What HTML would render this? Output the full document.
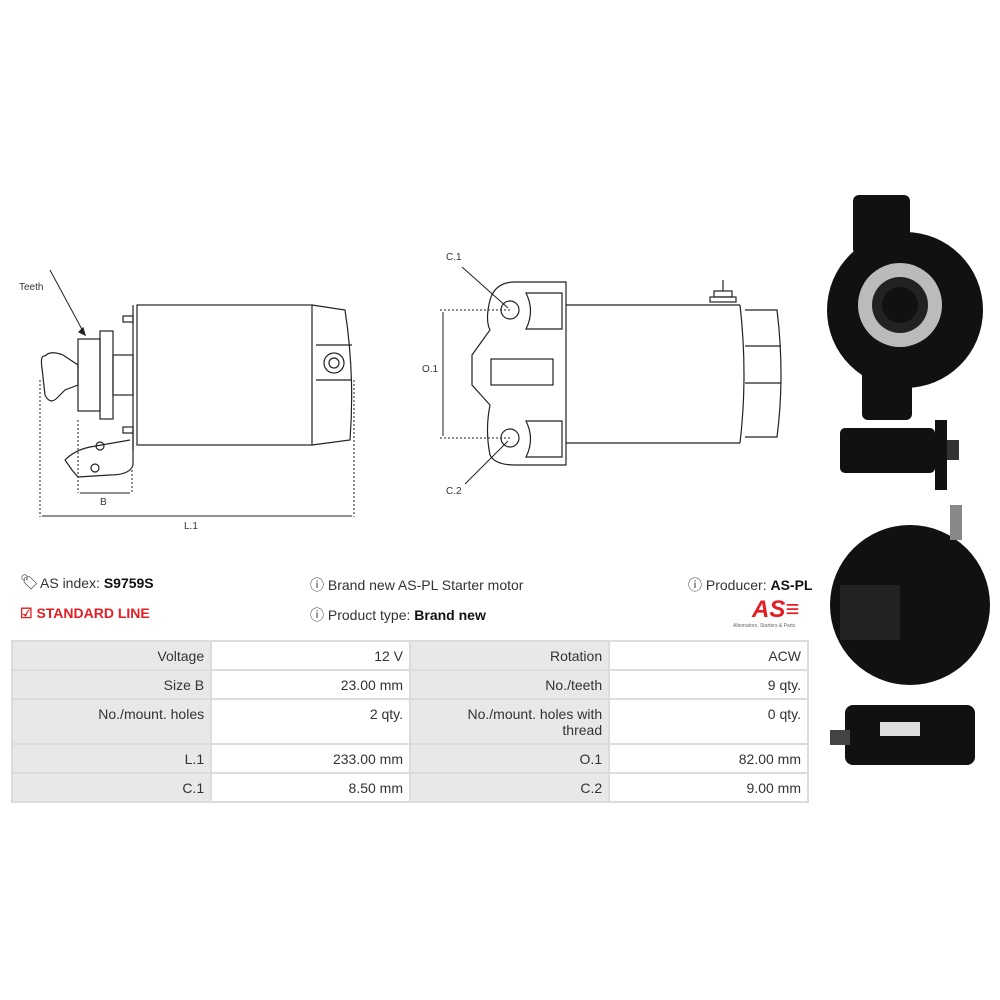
<!DOCTYPE html>
<html><head><meta charset="utf-8"><style>
body{margin:0;width:1000px;height:1000px;background:#fff;position:relative;font-family:"Liberation Sans",sans-serif;overflow:hidden}
.t{position:absolute;font-size:14px;color:#333}
b{color:#111}
table{position:absolute;left:11px;top:640px;border-collapse:collapse;width:798px;font-size:14px;color:#333}
td{border:2px solid #dcdcdc;text-align:right;padding:6px 6px 5px 6px;vertical-align:top;width:186px;line-height:16px}
td.g{background:#e8e8e8}
</style></head><body>
<svg width="1000" height="1000" style="position:absolute;left:0;top:0" fill="none" stroke="#222" stroke-width="1.2">
<g>
<rect x="137" y="305" width="175" height="140"/>
<line x1="133" y1="305" x2="133" y2="450"/>
<path d="M312 305 L345 310 Q355 375 350 440 L312 445"/>
<line x1="316" y1="345" x2="352" y2="345"/><line x1="316" y1="380" x2="352" y2="380"/>
<circle cx="334" cy="363" r="10"/><circle cx="334" cy="363" r="5"/>
<rect x="123" y="316" width="10" height="6"/><rect x="123" y="427" width="10" height="6"/>
<rect x="78" y="339" width="22" height="72"/>
<rect x="100" y="331" width="13" height="88"/>
<rect x="113" y="355" width="20" height="40"/>
<path d="M45 356 Q40 355 42 368 L45 395 Q50 405 57 398 L65 390 L78 385 L78 365 L63 355 Q50 350 45 356Z"/>
<path d="M133 430 L133 465 Q130 475 110 475 L78 477 L72 470 L65 460 Q75 450 90 447 L130 440"/>
<circle cx="100" cy="446" r="4"/><circle cx="95" cy="468" r="4"/>
<line x1="50" y1="270" x2="85" y2="335" stroke-width="1"/>
<path d="M85 335 l-6 -3 l4 -4z" fill="#222"/>
<g stroke-dasharray="2 2" stroke-width="1"><line x1="40" y1="380" x2="40" y2="517"/><line x1="354" y1="380" x2="354" y2="517"/><line x1="78" y1="420" x2="78" y2="493"/><line x1="132" y1="470" x2="132" y2="493"/></g>
<line x1="42" y1="516" x2="352" y2="516" stroke-width="1"/>
<line x1="80" y1="493" x2="130" y2="493" stroke-width="1"/>
</g>
<g>
<path d="M566 282 L515 282 Q495 282 490 300 Q485 320 490 330 L472 355 L472 385 L490 405 Q485 430 490 455 Q495 465 515 465 L566 465Z"/>
<circle cx="510" cy="310" r="9"/><circle cx="510" cy="438" r="9"/>
<path d="M526 293 L562 293 L562 329 L526 329 Q535 311 526 293Z"/>
<path d="M526 421 L562 421 L562 457 L526 457 Q535 439 526 421Z"/>
<rect x="491" y="359" width="62" height="26"/>
<line x1="566" y1="305" x2="740" y2="305"/><line x1="566" y1="443" x2="740" y2="443"/>
<path d="M740 305 Q748 375 740 443"/>
<path d="M745 310 L777 310 Q785 375 777 437 L745 437"/>
<line x1="745" y1="346" x2="781" y2="346"/><line x1="745" y1="383" x2="781" y2="383"/>
<rect x="710" y="297" width="26" height="5"/><rect x="714" y="291" width="18" height="6"/><line x1="723" y1="280" x2="723" y2="291"/>
<g stroke-dasharray="2 2" stroke-width="1"><line x1="440" y1="310" x2="510" y2="310"/><line x1="440" y1="438" x2="510" y2="438"/></g>
<line x1="443" y1="312" x2="443" y2="436" stroke-width="1"/>
<line x1="462" y1="267" x2="508" y2="308" stroke-width="1"/><line x1="465" y1="484" x2="508" y2="441" stroke-width="1"/>
</g>
<g fill="#111" stroke="none">
<rect x="853" y="195" width="57" height="60" rx="6"/>
<circle cx="905" cy="310" r="78"/>
<rect x="862" y="360" width="50" height="60" rx="6"/>
<circle cx="900" cy="305" r="42" fill="#bbb"/><circle cx="900" cy="305" r="28" fill="#222"/><circle cx="900" cy="305" r="18" fill="#111"/>
<rect x="840" y="428" width="95" height="45" rx="5"/>
<rect x="935" y="420" width="12" height="70"/><rect x="947" y="440" width="12" height="20" fill="#333"/>
<circle cx="910" cy="605" r="80"/>
<rect x="840" y="585" width="60" height="55" fill="#222"/>
<rect x="950" y="505" width="12" height="35" fill="#888"/>
<rect x="845" y="705" width="130" height="60" rx="8"/>
<rect x="830" y="730" width="20" height="15" fill="#444"/>
<rect x="880" y="722" width="40" height="14" fill="#ddd"/>
</g>
</svg>
<div class="t" style="left:40px;top:575px">AS index: <b>S9759S</b></div>
<div class="t" style="left:20px;top:573px;font-size:15px">🏷</div>
<div class="t" style="left:20px;top:605px;color:#e31e24;font-weight:bold">☑ STANDARD LINE</div>
<div class="t" style="left:310px;top:575px">ⓘ Brand new AS-PL Starter motor</div>
<div class="t" style="left:310px;top:605px">ⓘ Product type: <b>Brand new</b></div>
<div class="t" style="left:688px;top:575px">ⓘ Producer: <b>AS-PL</b></div>
<div class="t" style="left:752px;top:596px;color:#e31e24;font-weight:bold;font-style:italic;font-size:24px">AS≡</div>
<div class="t" style="left:733px;top:623px;font-size:5px;color:#666">Alternators, Starters &amp; Parts</div>
<table>
<tr><td class="g">Voltage</td><td>12 V</td><td class="g">Rotation</td><td>ACW</td></tr>
<tr><td class="g">Size B</td><td>23.00 mm</td><td class="g">No./teeth</td><td>9 qty.</td></tr>
<tr style="height:43px"><td class="g">No./mount. holes</td><td>2 qty.</td><td class="g">No./mount. holes with<br>thread</td><td>0 qty.</td></tr>
<tr><td class="g">L.1</td><td>233.00 mm</td><td class="g">O.1</td><td>82.00 mm</td></tr>
<tr><td class="g">C.1</td><td>8.50 mm</td><td class="g">C.2</td><td>9.00 mm</td></tr>
</table>
<div class="t" style="left:19px;top:282px;font-size:10px">Teeth</div>
<div class="t" style="left:100px;top:497px;font-size:10px">B</div>
<div class="t" style="left:184px;top:521px;font-size:10px">L.1</div>
<div class="t" style="left:446px;top:252px;font-size:10px">C.1</div>
<div class="t" style="left:446px;top:486px;font-size:10px">C.2</div>
<div class="t" style="left:422px;top:364px;font-size:10px">O.1</div>
</body></html>
